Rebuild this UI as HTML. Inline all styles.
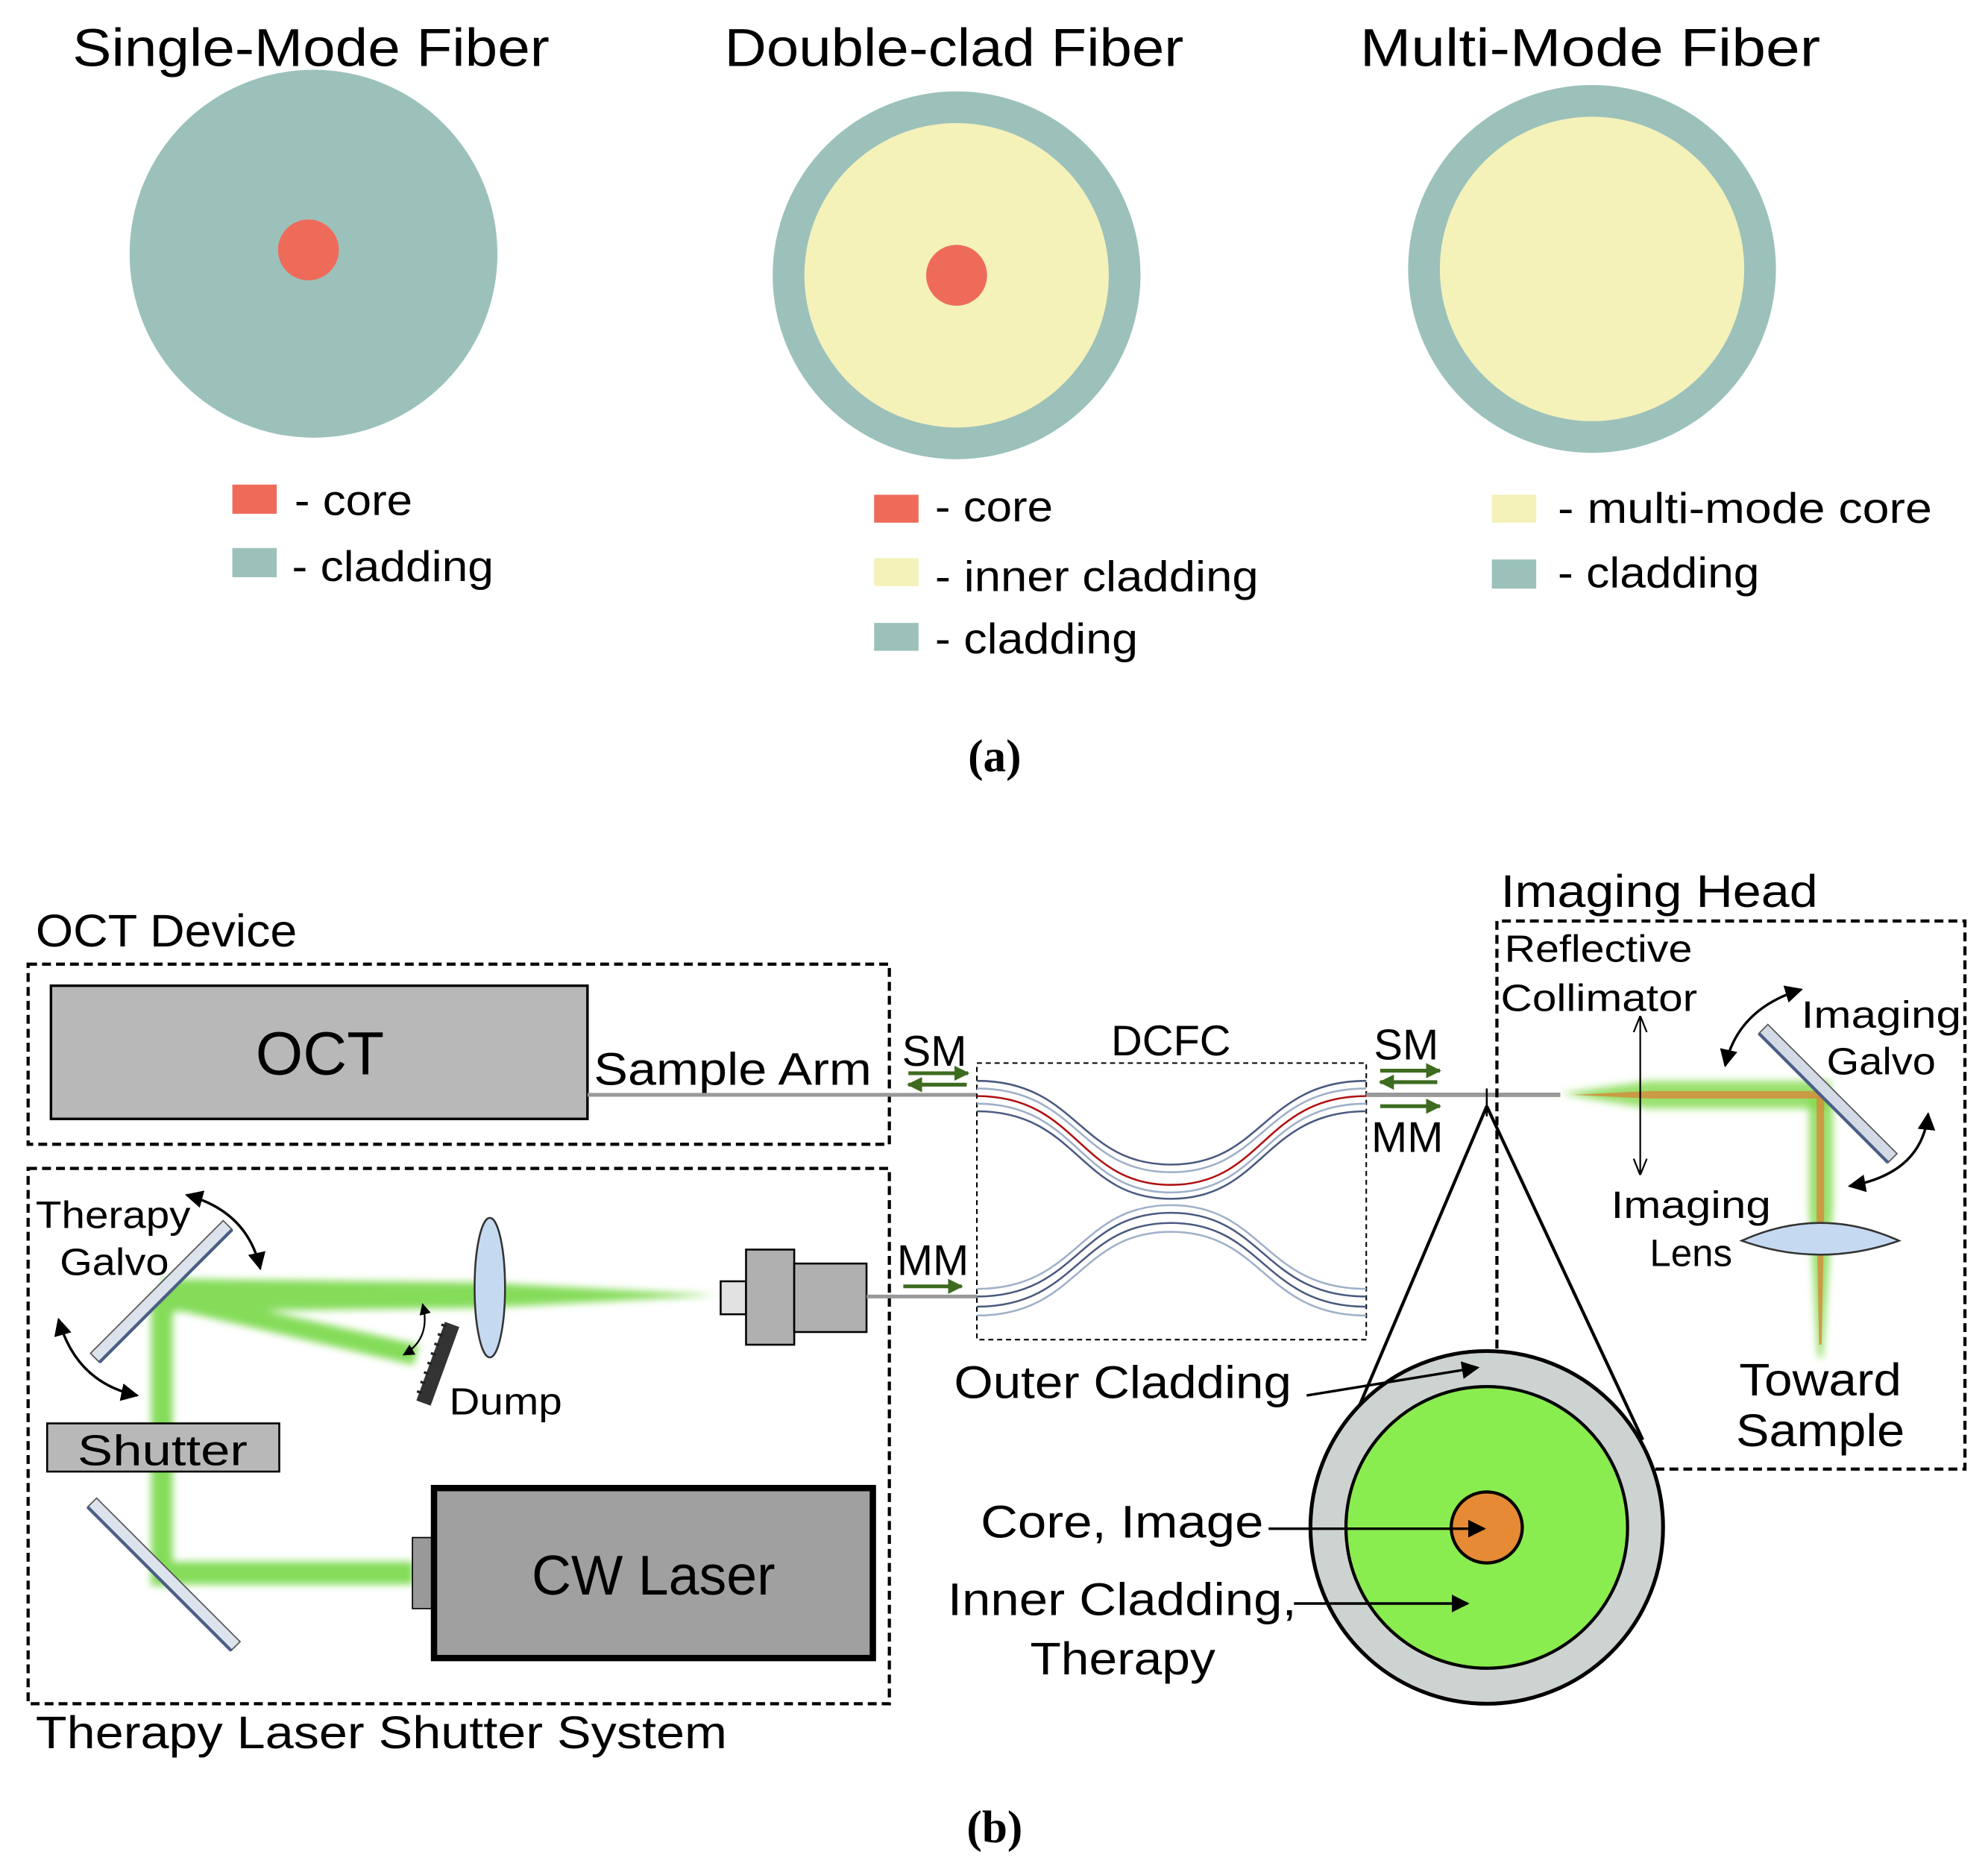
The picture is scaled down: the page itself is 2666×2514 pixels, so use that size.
<!DOCTYPE html>
<html><head><meta charset="utf-8"><style>html,body{margin:0;padding:0;background:#fff}svg{display:block}text{font-family:"Liberation Sans",sans-serif;fill:#000}</style></head><body>
<svg width="2666" height="2514" viewBox="0 0 1567 1478" xmlns="http://www.w3.org/2000/svg">
<defs>
<filter id="blur" x="-20%" y="-50%" width="140%" height="200%"><feGaussianBlur stdDeviation="3"/></filter>
<marker id="ah" viewBox="0 0 10 10" refX="9" refY="5" markerWidth="7" markerHeight="7" orient="auto-start-reverse"><path d="M0,0 L10,5 L0,10 z" fill="#000"/></marker>
<marker id="ga" viewBox="0 0 10 10" refX="9" refY="5" markerWidth="4" markerHeight="4" orient="auto"><path d="M0,0 L10,5 L0,10 z" fill="#3d6b1f"/></marker>
<marker id="th" viewBox="0 0 10 10" refX="9" refY="5" markerWidth="10" markerHeight="10" orient="auto-start-reverse"><path d="M0,1 L10,5 L0,9" fill="none" stroke="#000" stroke-width="1"/></marker>
</defs>
<g>
<!-- (a) -->
<text x="57" y="52" font-size="42" textLength="376" lengthAdjust="spacingAndGlyphs">Single-Mode Fiber</text>
<text x="571" y="52" font-size="42" textLength="362" lengthAdjust="spacingAndGlyphs">Double-clad Fiber</text>
<text x="1072" y="52" font-size="42" textLength="363" lengthAdjust="spacingAndGlyphs">Multi-Mode Fiber</text>
<circle cx="247" cy="200" r="145" fill="#9cc1bb"/>
<circle cx="243" cy="197" r="24" fill="#ee6b5a"/>
<circle cx="754" cy="217" r="145" fill="#9cc1bb"/>
<circle cx="754" cy="217" r="120" fill="#f4f1b9"/>
<circle cx="754" cy="217" r="24" fill="#ee6b5a"/>
<circle cx="1255" cy="212" r="145" fill="#9cc1bb"/>
<circle cx="1255" cy="212" r="120" fill="#f4f1b9"/>
<rect x="183" y="382" width="35" height="23" fill="#ee6b5a"/><text x="232" y="406" font-size="34" textLength="93" lengthAdjust="spacingAndGlyphs">- core</text>
<rect x="183" y="432" width="35" height="23" fill="#9cc1bb"/><text x="230" y="458" font-size="34" textLength="159" lengthAdjust="spacingAndGlyphs">- cladding</text>
<rect x="689" y="390" width="35" height="22" fill="#ee6b5a"/><text x="737" y="411" font-size="34" textLength="93" lengthAdjust="spacingAndGlyphs">- core</text>
<rect x="689" y="440" width="35" height="22" fill="#f4f1b9"/><text x="737" y="466" font-size="34" textLength="255" lengthAdjust="spacingAndGlyphs">- inner cladding</text>
<rect x="689" y="491" width="35" height="22" fill="#9cc1bb"/><text x="737" y="515" font-size="34" textLength="160" lengthAdjust="spacingAndGlyphs">- cladding</text>
<rect x="1176" y="390" width="35" height="22" fill="#f4f1b9"/><text x="1228" y="412" font-size="34" textLength="295" lengthAdjust="spacingAndGlyphs">- multi-mode core</text>
<rect x="1176" y="441" width="35" height="23" fill="#9cc1bb"/><text x="1228" y="463" font-size="34" textLength="159" lengthAdjust="spacingAndGlyphs">- cladding</text>
<text x="784" y="608" font-size="36" font-weight="bold" text-anchor="middle" style="font-family:'Liberation Serif',serif">(a)</text>

<!-- (b) -->
<text x="28" y="746" font-size="36" textLength="206" lengthAdjust="spacingAndGlyphs">OCT Device</text>
<rect x="22" y="760" width="679" height="142" fill="none" stroke="#000" stroke-width="2.5" stroke-dasharray="7,4"/>
<rect x="40" y="777" width="423" height="105" fill="#b8b8b8" stroke="#000" stroke-width="2"/>
<text x="252" y="847" font-size="48" text-anchor="middle">OCT</text>
<text x="468" y="855" font-size="36" textLength="219" lengthAdjust="spacingAndGlyphs">Sample Arm</text>
<line x1="463" y1="863" x2="770" y2="863" stroke="#999" stroke-width="3"/>
<text x="711" y="840" font-size="34">SM</text>
<line x1="716" y1="846" x2="763" y2="846" stroke="#3d6b1f" stroke-width="3" marker-end="url(#ga)"/>
<line x1="762" y1="855" x2="716" y2="855" stroke="#3d6b1f" stroke-width="3" marker-end="url(#ga)"/>

<rect x="22" y="921" width="679" height="422" fill="none" stroke="#000" stroke-width="2.5" stroke-dasharray="7,4"/>
<text x="28" y="1378" font-size="36" textLength="545" lengthAdjust="spacingAndGlyphs">Therapy Laser Shutter System</text>

<g filter="url(#blur)" opacity="0.85">
<path d="M128,1008 L380,1011 L565,1021 L380,1031 L128,1034 z" fill="#6fd63c"/>
<path d="M128,1015 L330,1060 L326,1076 L128,1030 z" fill="#6fd63c"/>
<rect x="119" y="1020" width="17" height="230" fill="#6fd63c"/>
<rect x="119" y="1231" width="207" height="18" fill="#6fd63c"/>
</g>
<g transform="translate(127,1018) rotate(-45)"><rect x="-74" y="-5" width="148" height="10" fill="#dde3ec" stroke="#555" stroke-width="1"/><line x1="-74" y1="5" x2="74" y2="5" stroke="#4a5e85" stroke-width="2.5"/></g>
<g transform="translate(129,1241) rotate(45)"><rect x="-80" y="-5" width="160" height="10" fill="#dde3ec" stroke="#555" stroke-width="1"/><line x1="-80" y1="5" x2="80" y2="5" stroke="#4a5e85" stroke-width="2.5"/></g>
<text x="28" y="968" font-size="30" textLength="122" lengthAdjust="spacingAndGlyphs">Therapy</text>
<text x="47" y="1005" font-size="30" textLength="86" lengthAdjust="spacingAndGlyphs">Galvo</text>
<path d="M147,942 Q195,955 205,1000" fill="none" stroke="#000" stroke-width="2" marker-end="url(#ah)" marker-start="url(#ah)"/>
<path d="M46,1040 Q60,1090 108,1100" fill="none" stroke="#000" stroke-width="2" marker-end="url(#ah)" marker-start="url(#ah)"/>
<ellipse cx="386" cy="1015" rx="12" ry="55" fill="#c5d9f1" stroke="#333" stroke-width="1.5"/>
<g transform="translate(345,1075) rotate(20)"><rect x="-6" y="-33" width="12" height="66" fill="#333"/><path d="M-8,-30 h4 M-8,-22 h4 M-8,-14 h4 M-8,-6 h4 M-8,2 h4 M-8,10 h4 M-8,18 h4 M-8,26 h4" stroke="#222" stroke-width="2"/></g>
<path d="M333,1028 Q340,1055 318,1068" fill="none" stroke="#000" stroke-width="1.3" marker-end="url(#ah)" marker-start="url(#ah)"/>
<text x="354" y="1115" font-size="30" textLength="89" lengthAdjust="spacingAndGlyphs">Dump</text>
<rect x="568" y="1010" width="20" height="26" fill="#e2e2e2" stroke="#000" stroke-width="1.5"/>
<rect x="588" y="985" width="38" height="75" fill="#b0b0b0" stroke="#000" stroke-width="1.5"/>
<rect x="626" y="996" width="57" height="54" fill="#b0b0b0" stroke="#000" stroke-width="1.5"/>
<line x1="683" y1="1022" x2="770" y2="1022" stroke="#999" stroke-width="3"/>
<text x="707" y="1005" font-size="34">MM</text>
<line x1="712" y1="1014" x2="758" y2="1014" stroke="#3d6b1f" stroke-width="3" marker-end="url(#ga)"/>
<rect x="37" y="1122" width="183" height="38" fill="#b8b8b8" stroke="#000" stroke-width="1.5"/>
<text x="128" y="1155" font-size="34" text-anchor="middle" textLength="134" lengthAdjust="spacingAndGlyphs">Shutter</text>
<rect x="325" y="1212" width="17" height="56" fill="#999" stroke="#000" stroke-width="1"/>
<rect x="342" y="1173" width="346" height="134" fill="#a0a0a0" stroke="#000" stroke-width="5"/>
<text x="515" y="1257" font-size="44" text-anchor="middle" textLength="192" lengthAdjust="spacingAndGlyphs">CW Laser</text>

<rect x="770" y="838" width="307" height="218" fill="none" stroke="#000" stroke-width="1.2" stroke-dasharray="4,3"/>
<text x="923" y="832" font-size="34" text-anchor="middle">DCFC</text>
<g fill="none">
<path d="M770,852 C850,852 850,918 923,918 C996,918 996,852 1077,852" stroke="#4a5a80" stroke-width="1.5"/>
<path d="M770,858 C850,858 850,924 923,924 C996,924 996,858 1077,858" stroke="#9fb0c8" stroke-width="1.5"/>
<path d="M770,864 C850,864 850,934 923,934 C996,934 996,864 1077,864" stroke="#b01010" stroke-width="1.5"/>
<path d="M770,870 C850,870 850,940 923,940 C996,940 996,870 1077,870" stroke="#9fb0c8" stroke-width="1.5"/>
<path d="M770,876 C850,876 850,945 923,945 C996,945 996,876 1077,876" stroke="#4a5a80" stroke-width="1.5"/>
<path d="M770,1016 C850,1016 850,950 923,950 C996,950 996,1016 1077,1016" stroke="#9fb0c8" stroke-width="1.5"/>
<path d="M770,1022 C850,1022 850,956 923,956 C996,956 996,1022 1077,1022" stroke="#4a5a80" stroke-width="1.5"/>
<path d="M770,1030 C850,1030 850,964 923,964 C996,964 996,1030 1077,1030" stroke="#4a5a80" stroke-width="1.5"/>
<path d="M770,1037 C850,1037 850,971 923,971 C996,971 996,1037 1077,1037" stroke="#9fb0c8" stroke-width="1.5"/>
</g>
<text x="1083" y="835" font-size="34">SM</text>
<line x1="1088" y1="844" x2="1135" y2="844" stroke="#3d6b1f" stroke-width="3" marker-end="url(#ga)"/>
<line x1="1133" y1="853" x2="1088" y2="853" stroke="#3d6b1f" stroke-width="3" marker-end="url(#ga)"/>
<line x1="1088" y1="872" x2="1135" y2="872" stroke="#3d6b1f" stroke-width="3" marker-end="url(#ga)"/>
<text x="1081" y="908" font-size="34">MM</text>
<line x1="1077" y1="863" x2="1230" y2="863" stroke="#999" stroke-width="3.5"/>

<text x="1183" y="715" font-size="36" textLength="250" lengthAdjust="spacingAndGlyphs">Imaging Head</text>
<path d="M1180,1063 V726 H1549 V1158 H1300" fill="none" stroke="#000" stroke-width="2.5" stroke-dasharray="7,4"/>
<text x="1186" y="758" font-size="30" textLength="148" lengthAdjust="spacingAndGlyphs">Reflective</text>
<text x="1183" y="797" font-size="30" textLength="155" lengthAdjust="spacingAndGlyphs">Collimator</text>
<g filter="url(#blur)">
<path d="M1230,862 L1300,852 L1443,852 L1443,874 L1300,874 z" fill="#7fd94a" opacity="0.8"/>
<path d="M1426,863 L1445,863 L1445,950 L1437,1070 L1433,1070 L1426,950 z" fill="#7fd94a" opacity="0.8"/>
</g>
<path d="M1240,863 L1300,860 L1438,860 L1438,866 L1300,866 z" fill="#d68a3a" opacity="0.8"/>
<path d="M1432,863 L1438,863 L1438,960 L1436,1060 L1434,1060 L1432,960 z" fill="#d68a3a" opacity="0.8"/>
<line x1="1293" y1="802" x2="1293" y2="925" stroke="#000" stroke-width="1.3" marker-end="url(#th)" marker-start="url(#th)"/>
<g transform="translate(1441,862) rotate(45)"><rect x="-72" y="-5" width="144" height="10" fill="#d3dae5" stroke="#555" stroke-width="1"/><line x1="-72" y1="5" x2="72" y2="5" stroke="#4a5e85" stroke-width="2.5"/></g>
<text x="1420" y="810" font-size="30" textLength="126" lengthAdjust="spacingAndGlyphs">Imaging</text>
<text x="1440" y="847" font-size="30" textLength="86" lengthAdjust="spacingAndGlyphs">Galvo</text>
<path d="M1360,840 Q1370,795 1420,780" fill="none" stroke="#000" stroke-width="2" marker-end="url(#ah)" marker-start="url(#ah)"/>
<path d="M1520,878 Q1515,925 1458,935" fill="none" stroke="#000" stroke-width="2" marker-end="url(#ah)" marker-start="url(#ah)"/>
<path d="M1373,978 Q1435,950 1497,978 Q1435,1000 1373,978 z" fill="#c5d9f1" stroke="#333" stroke-width="1.5"/>
<text x="1333" y="960" font-size="30" text-anchor="middle" textLength="126" lengthAdjust="spacingAndGlyphs">Imaging</text>
<text x="1333" y="998" font-size="30" text-anchor="middle">Lens</text>
<text x="1435" y="1100" font-size="36" text-anchor="middle" textLength="128" lengthAdjust="spacingAndGlyphs">Toward</text>
<text x="1435" y="1140" font-size="36" text-anchor="middle" textLength="133" lengthAdjust="spacingAndGlyphs">Sample</text>

<line x1="1172" y1="858" x2="1172" y2="880" stroke="#000" stroke-width="1.5"/>
<line x1="1172" y1="872" x2="1058" y2="1140" stroke="#000" stroke-width="2.5"/>
<line x1="1172" y1="872" x2="1295" y2="1135" stroke="#000" stroke-width="2.5"/>
<circle cx="1172" cy="1204" r="139" fill="#cdd3d1" stroke="#000" stroke-width="3"/>
<circle cx="1172" cy="1204" r="111" fill="#8aed4f" stroke="#000" stroke-width="2.5"/>
<circle cx="1172" cy="1204" r="28" fill="#e68a35" stroke="#000" stroke-width="2.5"/>
<text x="752" y="1102" font-size="36" textLength="266" lengthAdjust="spacingAndGlyphs">Outer Cladding</text>
<line x1="1030" y1="1100" x2="1165" y2="1078" stroke="#000" stroke-width="2" marker-end="url(#ah)"/>
<text x="773" y="1212" font-size="36" textLength="223" lengthAdjust="spacingAndGlyphs">Core, Image</text>
<line x1="1000" y1="1205" x2="1170" y2="1205" stroke="#000" stroke-width="2" marker-end="url(#ah)"/>
<text x="747" y="1273" font-size="36" textLength="275" lengthAdjust="spacingAndGlyphs">Inner Cladding,</text>
<text x="885" y="1320" font-size="36" text-anchor="middle" textLength="146" lengthAdjust="spacingAndGlyphs">Therapy</text>
<line x1="1020" y1="1264" x2="1157" y2="1264" stroke="#000" stroke-width="2" marker-end="url(#ah)"/>
<text x="784" y="1452" font-size="36" font-weight="bold" text-anchor="middle" style="font-family:'Liberation Serif',serif">(b)</text>
</g>
</svg>
</body></html>
